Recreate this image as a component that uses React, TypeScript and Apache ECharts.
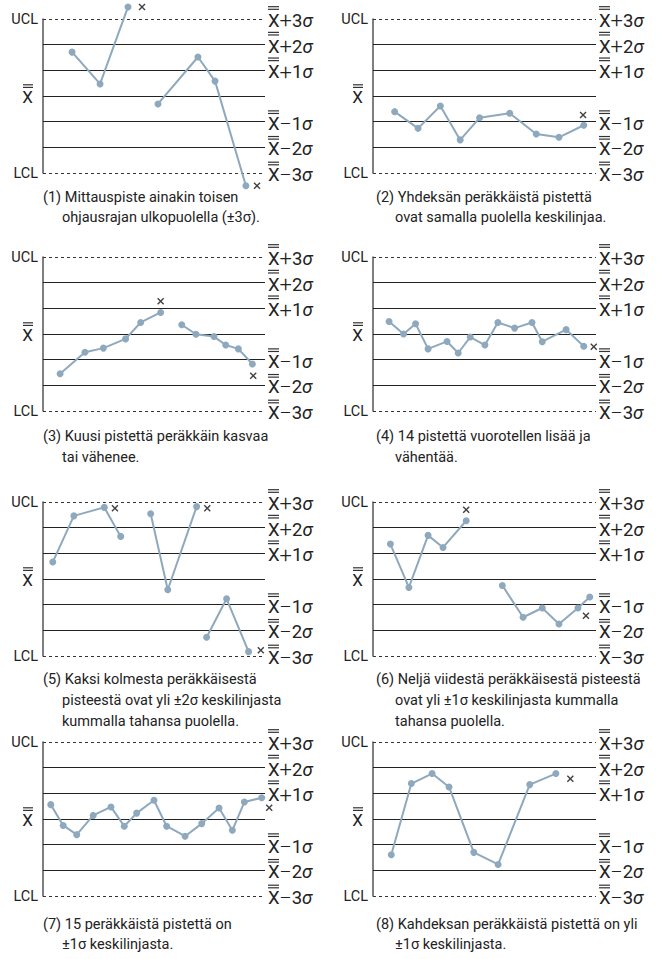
import React, { useEffect, useRef } from "react";
import * as echarts from "echarts";

// Control levels in sigma units and their right-hand labels
const levels = [3, 2, 1, 0, -1, -2, -3];
const rightOps = ["+", "+", "+", "", "\u2013", "\u2013", "\u2013"];
const rightNums = ["3", "2", "1", "", "1", "2", "3"];

// Panel data: x = position along the panel (0-100), y = sigma units, null = break in line
const p1x = [13.1, 25.7, 38.3, null, 51.8, 69.8, 77.5, 91.4];
const p1y = [1.71, 0.47, 3.47, null, -0.31, 1.52, 0.58, -3.5];
const p1mx = [44.6, 96.4];
const p1my = [3.47, -3.5];

const p2x = [9.7, 20.2, 30.2, 39.1, 47.8, 61.3, 73.2, 83.4, 94.5];
const p2y = [-0.61, -1.26, -0.39, -1.71, -0.85, -0.67, -1.48, -1.61, -1.14];
const p2mx = [94.2];
const p2my = [-0.74];

const p3x = [7.7, 18.9, 27.2, 37.2, 44, 53, null, 62.5, 68.9, 77, 82.3, 88, 94.3];
const p3y = [-1.55, -0.71, -0.55, -0.19, 0.45, 0.84, null, 0.36, -0.01, -0.1, -0.43, -0.58, -1.17];
const p3mx = [53, 94.7];
const p3my = [1.28, -1.63];

const p4x = [7.2, 13.7, 19.1, 24.7, 33.2, 38.2, 43.6, 50.2, 56, 63.5, 71.3, 75.9, 86.6, 94.5];
const p4y = [0.49, 0, 0.4, -0.58, -0.29, -0.74, -0.12, -0.43, 0.45, 0.23, 0.45, -0.3, 0.17, -0.48];
const p4mx = [99];
const p4my = [-0.5];

const p5x = [4.4, 13.9, 27.6, 35, null, 48.5, 56.2, 69.2, null, 73.7, 82.7, 92.6];
const p5y = [0.66, 2.46, 2.79, 1.66, null, 2.54, -0.42, 2.82, null, -2.27, -0.77, -2.83];
const p5mx = [32.4, 74, 98.1];
const p5my = [2.76, 2.76, -2.78];

const p6x = [7.8, 16.1, 24.7, 31.4, 41.8, null, 58, 67.3, 75.9, 83.4, 91.9, 97.2];
const p6y = [1.36, -0.33, 1.7, 1.23, 2.27, null, -0.25, -1.49, -1.13, -1.75, -1.13, -0.7];
const p6mx = [41.8, 95.5];
const p6my = [2.7, -1.43];

const p7x = [3.5, 9.1, 15.2, 22.6, 30.6, 36.6, 42.2, 50, 55.7, 64, 71.5, 79.3, 85.3, 90.7, 98.5];
const p7y = [0.56, -0.25, -0.61, 0.14, 0.47, -0.28, 0.23, 0.73, -0.28, -0.67, -0.18, 0.43, -0.44, 0.66, 0.83];
const p7mx = [101.9];
const p7my = [0.44];

const p8x = [8.2, 17.2, 26.5, 34.1, 45.2, 56.1, 70.3, 82];
const p8y = [-1.39, 1.38, 1.77, 1.25, -1.3, -1.77, 1.34, 1.77];
const p8mx = [88.5];
const p8my = [1.57];

const cap1 = ["(1) Mittauspiste ainakin toisen", "ohjausrajan ulkopuolella (\u00b13\u03c3)."];
const cap2 = ["(2) Yhdeks\u00e4n per\u00e4kk\u00e4ist\u00e4 pistett\u00e4", "ovat samalla puolella keskilinjaa."];
const cap3 = ["(3) Kuusi pistett\u00e4 per\u00e4kk\u00e4in kasvaa", "tai v\u00e4henee."];
const cap4 = ["(4) 14 pistett\u00e4 vuorotellen lis\u00e4\u00e4 ja", "v\u00e4hent\u00e4\u00e4."];
const cap5 = ["(5) Kaksi kolmesta per\u00e4kk\u00e4isest\u00e4", "pisteest\u00e4 ovat yli \u00b12\u03c3 keskilinjasta", "kummalla tahansa puolella."];
const cap6 = ["(6) Nelj\u00e4 viidest\u00e4 per\u00e4kk\u00e4isest\u00e4 pisteest\u00e4", "ovat yli \u00b11\u03c3 keskilinjasta kummalla", "tahansa puolella."];
const cap7 = ["(7) 15 per\u00e4kk\u00e4ist\u00e4 pistett\u00e4 on", "\u00b11\u03c3 keskilinjasta."];
const cap8 = ["(8) Kahdeksan per\u00e4kk\u00e4ist\u00e4 pistett\u00e4 on yli", "\u00b11\u03c3 keskilinjasta."];

const panels = [
  { x: p1x, y: p1y, mx: p1mx, my: p1my, cap: cap1 },
  { x: p2x, y: p2y, mx: p2mx, my: p2my, cap: cap2 },
  { x: p3x, y: p3y, mx: p3mx, my: p3my, cap: cap3 },
  { x: p4x, y: p4y, mx: p4mx, my: p4my, cap: cap4 },
  { x: p5x, y: p5y, mx: p5mx, my: p5my, cap: cap5 },
  { x: p6x, y: p6y, mx: p6mx, my: p6my, cap: cap6 },
  { x: p7x, y: p7y, mx: p7mx, my: p7my, cap: cap7 },
  { x: p8x, y: p8y, mx: p8mx, my: p8my, cap: cap8 },
];

// layout
const colLeft = [43, 373];
const colWidth = [222, 223];
const capLeft = [43, 376];
const capIndent = [62, 395];
const rowTop = [19, 257, 502, 742];
const rowH = 154;
const capY = [
  [197, 217],
  [436, 457],
  [679, 700, 721],
  [924, 944],
];

const FONT = "Roboto, 'Liberation Sans', 'DejaVu Sans', sans-serif";
const TXT = "#222";
const POINT = "#8ea9be";
const LINE = "#222";
const CROSS =
  "path://M0,1.4L1.4,0L5,3.6L8.6,0L10,1.4L6.4,5L10,8.6L8.6,10L5,6.4L1.4,10L0,8.6L3.6,5Z";

// double overline drawn as two thin rich-text bars above the X
const barStyle = (w: number) => ({ width: w, height: 1.2, lineHeight: 1.2, fontSize: 1, backgroundColor: "#333" });
const gapStyle = { height: 1.4, lineHeight: 1.4, fontSize: 1 };

function segments(xs: (number | null)[], ys: (number | null)[]) {
  const out: number[][][] = [];
  let cur: number[][] = [];
  xs.forEach((x, i) => {
    const y = ys[i];
    if (x === null || y === null) {
      if (cur.length) out.push(cur);
      cur = [];
    } else cur.push([x, y]);
  });
  if (cur.length) out.push(cur);
  return out;
}

export default function App() {
  const ref = useRef<HTMLDivElement>(null);
  useEffect(() => {
    document.body.style.margin = "0";
    if (!ref.current) return;
    const chart = echarts.init(ref.current, undefined, { renderer: "svg" });
    const grid: any[] = [];
    const xAxis: any[] = [];
    const yAxis: any[] = [];
    const series: any[] = [];
    const graphic: any[] = [];

    panels.forEach((p, i) => {
      const col = i % 2;
      const row = Math.floor(i / 2);
      grid.push({ left: colLeft[col], top: rowTop[row], width: colWidth[col], height: rowH });
      xAxis.push({ gridIndex: i, type: "value", min: 0, max: 100, show: false });
      yAxis.push({
        gridIndex: i,
        type: "value",
        min: -3,
        max: 3,
        interval: 1,
        splitLine: { show: false },
        axisTick: { show: false },
        axisLine: { show: true, lineStyle: { color: "#555", width: 1.5 } },
        axisLabel: {
          show: true,
          margin: 5,
          showMinLabel: true,
          showMaxLabel: true,
          color: TXT,
          fontFamily: FONT,
          fontSize: 14.5,
          formatter: (v: number) =>
            v === 3
              ? "UCL"
              : v === -3
              ? "LCL"
              : v === 0
              ? "{b| }{sp| }\n{g| }\n{b| }{sp| }\n{lx|X}{sp| }\n{g| }\n{g| }"
              : "",
          rich: {
            b: barStyle(10),
            g: gapStyle,
            sp: { width: 5, fontSize: 1 },
            lx: { fontSize: 17, fontFamily: FONT, color: TXT },
          },
        },
      });
      const segs = segments(p.x, p.y);
      segs.forEach((seg, si) => {
        const s: any = {
          type: "line",
          xAxisIndex: i,
          yAxisIndex: i,
          data: seg,
          clip: false,
          symbol: "circle",
          symbolSize: 7,
          showSymbol: true,
          itemStyle: { color: POINT },
          lineStyle: { color: POINT, width: 2 },
          silent: true,
          z: 5,
        };
        if (si === 0) {
          s.markLine = {
            silent: true,
            symbol: ["none", "none"],
            animation: false,
            data: levels.map((lv, li) => ({
              yAxis: lv,
              lineStyle: {
                type: lv === 3 || lv === -3 ? [3, 3] : "solid",
                color: lv === 3 || lv === -3 ? "#333" : LINE,
                width: 1.2,
              },
              label: {
                show: lv !== 0,
                position: "end",
                distance: 3,
                formatter: `{b| }\n{g| }\n{b| }\n{x|X}{o|${rightOps[li]}}{t|${rightNums[li]}}{s|\u03c3}`,
                rich: {
                  b: barStyle(11),
                  g: gapStyle,
                  x: { fontSize: 18.5, fontFamily: FONT, color: TXT },
                  o: { fontSize: lv > 0 ? 22 : 18.5, fontFamily: FONT, fontWeight: 300, color: TXT },
                  t: { fontSize: 18.5, fontFamily: FONT, color: TXT },
                  s: { fontSize: 18.5, fontFamily: FONT, fontStyle: "italic", color: TXT },
                },
              },
            })),
          };
        }
        series.push(s);
      });
      series.push({
        type: "scatter",
        xAxisIndex: i,
        yAxisIndex: i,
        data: p.mx.map((x, k) => [x, p.my[k]]),
        symbol: CROSS,
        symbolSize: 7,
        clip: false,
        itemStyle: { color: "#111" },
        silent: true,
        z: 6,
      });
      p.cap.forEach((line, li) => {
        graphic.push({
          type: "text",
          x: li === 0 ? capLeft[col] : capIndent[col],
          y: capY[row][li],
          style: {
            text: line,
            fontSize: 14.5,
            fontFamily: FONT,
            fill: TXT,
            verticalAlign: "middle",
          },
        });
      });
    });

    chart.setOption({
      animation: false,
      backgroundColor: "#fff",
      grid,
      xAxis,
      yAxis,
      series,
      graphic,
    });
    return () => chart.dispose();
  }, []);
  return <div ref={ref} style={{ width: 666, height: 959 }} />;
}
